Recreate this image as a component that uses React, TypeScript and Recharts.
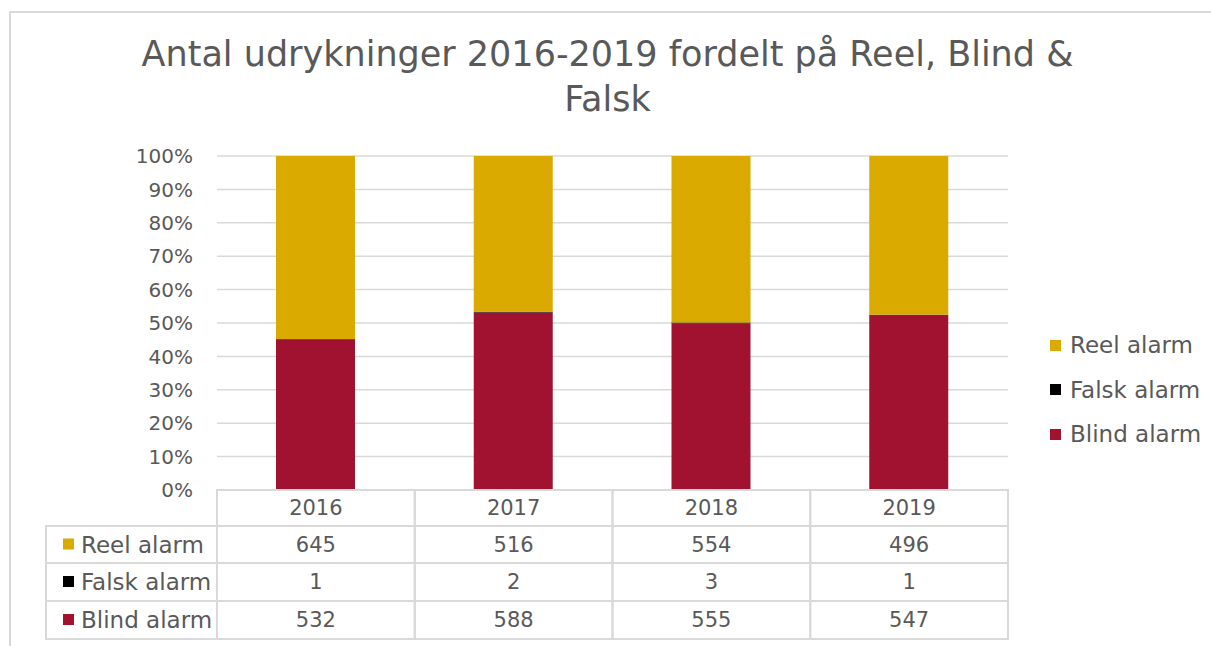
import React from "react";
import {
  BarChart,
  Bar,
  XAxis,
  YAxis,
  CartesianGrid,
  Legend,
} from "recharts";

// chart values
const years = ["2016", "2017", "2018", "2019"];
const reelAlarm = [645, 516, 554, 496];
const falskAlarm = [1, 2, 3, 1];
const blindAlarm = [532, 588, 555, 547];
const yTicks = [0, 0.1, 0.2, 0.3, 0.4, 0.5, 0.6, 0.7, 0.8, 0.9, 1];

const series = [
  { key: "reel", name: "Reel alarm", color: "#DAAA00", values: reelAlarm },
  { key: "falsk", name: "Falsk alarm", color: "#000000", values: falskAlarm },
  { key: "blind", name: "Blind alarm", color: "#A0122F", values: blindAlarm },
];

const data = years.map((year, i) => ({
  year,
  reel: reelAlarm[i],
  falsk: falskAlarm[i],
  blind: blindAlarm[i],
}));

const W = 1211;
const H = 646;
const PLOT_LEFT = 217;
const PLOT_RIGHT = 1008;
const BAND = (PLOT_RIGHT - PLOT_LEFT) / years.length;
const LABEL_COL = 171;
const ROWS = [0, 36, 73, 111, 149];
const FONT = "'DejaVu Sans', sans-serif";
const TEXT = "#595959";
const LINE = "#d9d9d9";

// data table drawn below the axis, one column per category tick
const TableTick = (props: any) => {
  const { x, y, payload, index } = props;
  const left = x - BAND / 2;
  const cells: React.ReactNode[] = [];

  cells.push(
    <rect key="h" x={left} y={y + ROWS[0]} width={BAND} height={ROWS[1] - ROWS[0]} fill="none" stroke={LINE} strokeWidth={2} />
  );
  cells.push(
    <text key="ht" x={x} y={y + (ROWS[0] + ROWS[1]) / 2} textAnchor="middle" dominantBaseline="central" fontSize={21} fill={TEXT} fontFamily={FONT}>
      {payload.value}
    </text>
  );

  series.forEach((s, r) => {
    const top = y + ROWS[r + 1];
    const h = ROWS[r + 2] - ROWS[r + 1];
    cells.push(
      <rect key={`c${r}`} x={left} y={top} width={BAND} height={h} fill="none" stroke={LINE} strokeWidth={2} />
    );
    cells.push(
      <text key={`t${r}`} x={x} y={top + h / 2} textAnchor="middle" dominantBaseline="central" fontSize={21} fill={TEXT} fontFamily={FONT}>
        {s.values[index]}
      </text>
    );
    if (index === 0) {
      const lx = left - LABEL_COL;
      cells.push(
        <rect key={`l${r}`} x={lx} y={top} width={LABEL_COL} height={h} fill="none" stroke={LINE} strokeWidth={2} />
      );
      cells.push(
        <rect key={`k${r}`} x={lx + 17} y={top + h / 2 - 6} width={11} height={11} fill={s.color} />
      );
      cells.push(
        <text key={`lt${r}`} x={lx + 35} y={top + h / 2} dominantBaseline="central" fontSize={23} fill={TEXT} fontFamily={FONT}>
          {s.name}
        </text>
      );
    }
  });

  return <g>{cells}</g>;
};

const LegendContent = () => (
  <div style={{ fontFamily: FONT, color: TEXT, fontSize: 23 }}>
    {series.map((s) => (
      <div key={s.key} style={{ display: "flex", alignItems: "center", height: 44.5 }}>
        <span style={{ width: 11, height: 11, background: s.color, display: "inline-block", marginRight: 9 }} />
        <span>{s.name}</span>
      </div>
    ))}
  </div>
);

export default function App() {
  return (
    <div
      style={{
        position: "absolute",
        left: 0,
        top: 0,
        width: W,
        height: H,
        overflow: "hidden",
        background: "#fff",
        fontFamily: FONT,
      }}
    >
      <div
        style={{
          position: "absolute",
          left: 9,
          top: 11,
          width: 1400,
          height: 800,
          border: `2px solid ${LINE}`,
          boxSizing: "border-box",
        }}
      />
      <div
        style={{
          position: "absolute",
          left: 0,
          top: 32,
          width: W,
          textAlign: "center",
          fontSize: 35,
          lineHeight: "45px",
          color: TEXT,
          paddingLeft: 2,
        }}
      >
        Antal udrykninger 2016-2019 fordelt på Reel, Blind &amp;
        <br />
        Falsk
      </div>
      <div style={{ position: "absolute", left: 0, top: 0 }}>
        <BarChart
          width={W}
          height={H}
          data={data}
          stackOffset="expand"
          margin={{ top: 156, right: W - PLOT_RIGHT, bottom: 6, left: PLOT_LEFT - 80 }}
        >
          <CartesianGrid vertical={false} stroke={LINE} strokeWidth={1.5} />
          <XAxis
            dataKey="year"
            height={150}
            axisLine={false}
            tickLine={false}
            tickSize={0}
            tickMargin={0}
            interval={0}
            tick={<TableTick />}
          />
          <YAxis
            width={80}
            ticks={yTicks}
            domain={[0, 1]}
            axisLine={false}
            tickLine={false}
            tickSize={6}
            tickMargin={18}
            tickFormatter={(v: number) => `${Math.round(v * 100)}%`}
            tick={{ fill: TEXT, fontSize: 20, fontFamily: FONT }}
          />
          <Legend
            layout="vertical"
            verticalAlign="middle"
            align="center"
            content={<LegendContent />}
            wrapperStyle={{ left: 1050, top: 323, width: 160 }}
          />
          <Bar dataKey="blind" name="Blind alarm" stackId="a" fill="#A0122F" barSize={79} isAnimationActive={false} />
          <Bar dataKey="falsk" name="Falsk alarm" stackId="a" fill="#000000" barSize={79} isAnimationActive={false} />
          <Bar dataKey="reel" name="Reel alarm" stackId="a" fill="#DAAA00" barSize={79} isAnimationActive={false} />
        </BarChart>
      </div>
    </div>
  );
}
